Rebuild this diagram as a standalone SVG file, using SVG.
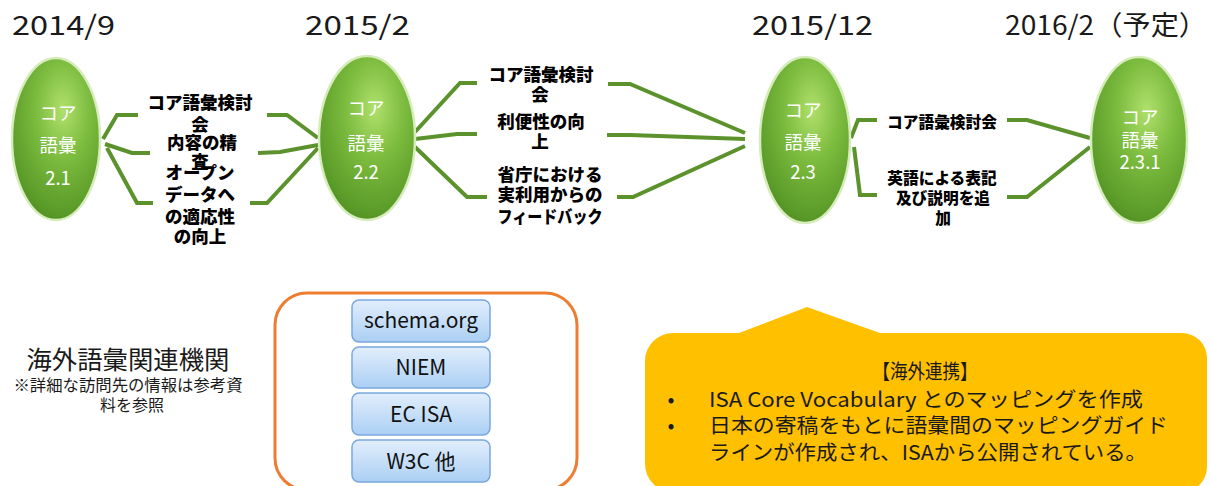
<svg xmlns="http://www.w3.org/2000/svg" width="1212" height="486" viewBox="0 0 1212 486">
<defs>
<radialGradient id="gEll" cx="0.58" cy="0.32" r="0.78">
<stop offset="0" stop-color="#b0e06c"/>
<stop offset="0.4" stop-color="#7bbb3e"/>
<stop offset="0.82" stop-color="#5a9a28"/>
<stop offset="1" stop-color="#4a861e"/>
</radialGradient>
<linearGradient id="gBlue" x1="0" y1="0" x2="0" y2="1">
<stop offset="0" stop-color="#e2eefc"/>
<stop offset="1" stop-color="#abcff4"/>
</linearGradient>
<style>
.ell{fill:url(#gEll);stroke:#d6ecbb;stroke-width:2.5}
.et{font-family:"Noto Sans CJK JP","Noto Sans",sans-serif;font-size:18.5px;fill:#ffffff;text-anchor:middle}
.con{fill:none;stroke:#5b922c;stroke-width:4;stroke-linejoin:miter}
.lb{font-family:"Noto Sans CJK JP",sans-serif;font-weight:900;font-size:17.5px;fill:#000;text-anchor:middle}
.lb3{font-family:"Noto Sans CJK JP",sans-serif;font-weight:900;font-size:15.7px;fill:#000;text-anchor:middle}
.date{font-family:"Noto Sans CJK JP","Noto Sans",sans-serif;font-size:27px;fill:#1a1a1a}
.bb{fill:url(#gBlue);stroke:#79a8de;stroke-width:1.5}
.bt{font-family:"Noto Sans CJK JP","Noto Sans",sans-serif;font-size:21px;fill:#111;text-anchor:middle}
.yt{font-family:"Noto Sans CJK JP","Noto Sans",sans-serif;font-size:20.5px;fill:#1a1a1a}
</style>
</defs>
<rect width="1212" height="486" fill="#ffffff"/>

<g id="dates">
<text class="date" x="12" y="35" textLength="103" lengthAdjust="spacingAndGlyphs">2014/9</text>
<text class="date" x="305" y="35" textLength="105" lengthAdjust="spacingAndGlyphs">2015/2</text>
<text class="date" x="752" y="35" textLength="121" lengthAdjust="spacingAndGlyphs">2015/12</text>
<text class="date" x="1005" y="35" textLength="202" lengthAdjust="spacingAndGlyphs">2016/2（予定）</text>
</g>

<g id="connectors">
<polyline class="con" points="103,139 117,115 138,115"/>
<polyline class="con" points="105,144 132,153 150,153"/>
<polyline class="con" points="107,148 137,203 153,203"/>
<polyline class="con" points="267,115 287,115 318,138"/>
<polyline class="con" points="258,153 280,152 318,145"/>
<polyline class="con" points="250,203 267,203 318,148"/>
<polyline class="con" points="415,132 460,83 477,83"/>
<polyline class="con" points="415,139 457,134 477,134"/>
<polyline class="con" points="415,147 467,197 487,197"/>
<polyline class="con" points="608,84 630,84 745,133"/>
<polyline class="con" points="607,135 630,135 745,139"/>
<polyline class="con" points="617,197 633,197 745,146"/>
<polyline class="con" points="851,138 858,120 877,120"/>
<polyline class="con" points="854,147 860,195 877,195"/>
<polyline class="con" points="1007,120 1027,120 1090,138"/>
<polyline class="con" points="1007,197 1027,197 1090,147"/>
</g>

<g id="v21">
<ellipse class="ell" cx="56" cy="139" rx="44" ry="81"/>
<text class="et" x="58" y="120">コア</text>
<text class="et" x="58" y="152">語彙</text>
<text class="et" x="58" y="185">2.1</text>
</g>
<g id="v22">
<ellipse class="ell" cx="367" cy="138" rx="48" ry="82"/>
<text class="et" x="366" y="115">コア</text>
<text class="et" x="366" y="150">語彙</text>
<text class="et" x="366" y="179">2.2</text>
</g>
<g id="v23">
<ellipse class="ell" cx="805" cy="140" rx="45" ry="83"/>
<text class="et" x="803" y="117">コア</text>
<text class="et" x="803" y="149">語彙</text>
<text class="et" x="803" y="179">2.3</text>
</g>
<g id="v231">
<ellipse class="ell" cx="1139" cy="140" rx="48" ry="83"/>
<text class="et" x="1140" y="124">コア</text>
<text class="et" x="1140" y="147">語彙</text>
<text class="et" x="1140" y="169">2.3.1</text>
</g>

<g id="labels1">
<text class="lb" x="200" y="109">コア語彙検討</text>
<text class="lb" x="200" y="131">会</text>
<text class="lb" x="202" y="149">内容の精</text>
<text class="lb" x="200" y="168">査</text>
<text class="lb" x="200" y="179">オープン</text>
<text class="lb" x="200" y="201">データへ</text>
<text class="lb" x="200" y="223">の適応性</text>
<text class="lb" x="200" y="243">の向上</text>
</g>
<g id="labels2">
<text class="lb" x="541" y="81">コア語彙検討</text>
<text class="lb" x="540" y="101">会</text>
<text class="lb" x="541" y="128">利便性の向</text>
<text class="lb" x="540" y="148">上</text>
<text class="lb" x="550" y="181">省庁における</text>
<text class="lb" x="550" y="201">実利用からの</text>
<text class="lb" x="550" y="223" textLength="105" lengthAdjust="spacingAndGlyphs">フィードバック</text>
</g>
<g id="labels3">
<text class="lb3" x="942" y="128">コア語彙検討会</text>
<text class="lb3" x="942" y="184">英語による表記</text>
<text class="lb3" x="943" y="204">及び説明を追</text>
<text class="lb3" x="943" y="224">加</text>
</g>

<g id="overseas-title">
<text x="128" y="369" font-family="'Noto Sans CJK JP',sans-serif" font-size="25" fill="#1a1a1a" text-anchor="middle" textLength="203" lengthAdjust="spacingAndGlyphs">海外語彙関連機関</text>
<text x="128" y="391" font-family="'Noto Sans CJK JP',sans-serif" font-size="16" fill="#1a1a1a" text-anchor="middle" textLength="229" lengthAdjust="spacingAndGlyphs">※詳細な訪問先の情報は参考資</text>
<text x="132" y="411" font-family="'Noto Sans CJK JP',sans-serif" font-size="16" fill="#1a1a1a" text-anchor="middle">料を参照</text>
</g>

<g id="orgs">
<rect x="275" y="293" width="302" height="197" rx="32" fill="none" stroke="#ed7d31" stroke-width="3"/>
<g id="org-schema">
<rect class="bb" x="352" y="300" width="138" height="42" rx="7"/>
<text class="bt" x="421" y="328">schema.org</text>
</g>
<g id="org-niem">
<rect class="bb" x="352" y="347" width="138" height="41" rx="7"/>
<text class="bt" x="421" y="375">NIEM</text>
</g>
<g id="org-ecisa">
<rect class="bb" x="352" y="393" width="138" height="42" rx="7"/>
<text class="bt" x="421" y="422">EC ISA</text>
</g>
<g id="org-w3c">
<rect class="bb" x="352" y="440" width="138" height="42" rx="7"/>
<text class="bt" x="421" y="469">W3C 他</text>
</g>
</g>

<g id="callout">
<path d="M673,333 L739,333 L807,307 L880,333 L1182,333 A25,25 0 0 1 1207,358 L1207,467 A25,25 0 0 1 1182,492 L673,492 A28,28 0 0 1 645,464 L645,361 A28,28 0 0 1 673,333 Z" fill="#ffc000"/>
<text class="yt" x="925" y="379" text-anchor="middle" textLength="105" lengthAdjust="spacingAndGlyphs">【海外連携】</text>
<text class="yt" x="671" y="407" text-anchor="middle">•</text>
<text class="yt" x="709" y="407" textLength="434" lengthAdjust="spacingAndGlyphs">ISA Core Vocabulary とのマッピングを作成</text>
<text class="yt" x="671" y="433" text-anchor="middle">•</text>
<text class="yt" x="709" y="433" textLength="459" lengthAdjust="spacingAndGlyphs">日本の寄稿をもとに語彙間のマッピングガイド</text>
<text class="yt" x="709" y="460" textLength="438" lengthAdjust="spacingAndGlyphs">ラインが作成され、ISAから公開されている。</text>
</g>
</svg>
